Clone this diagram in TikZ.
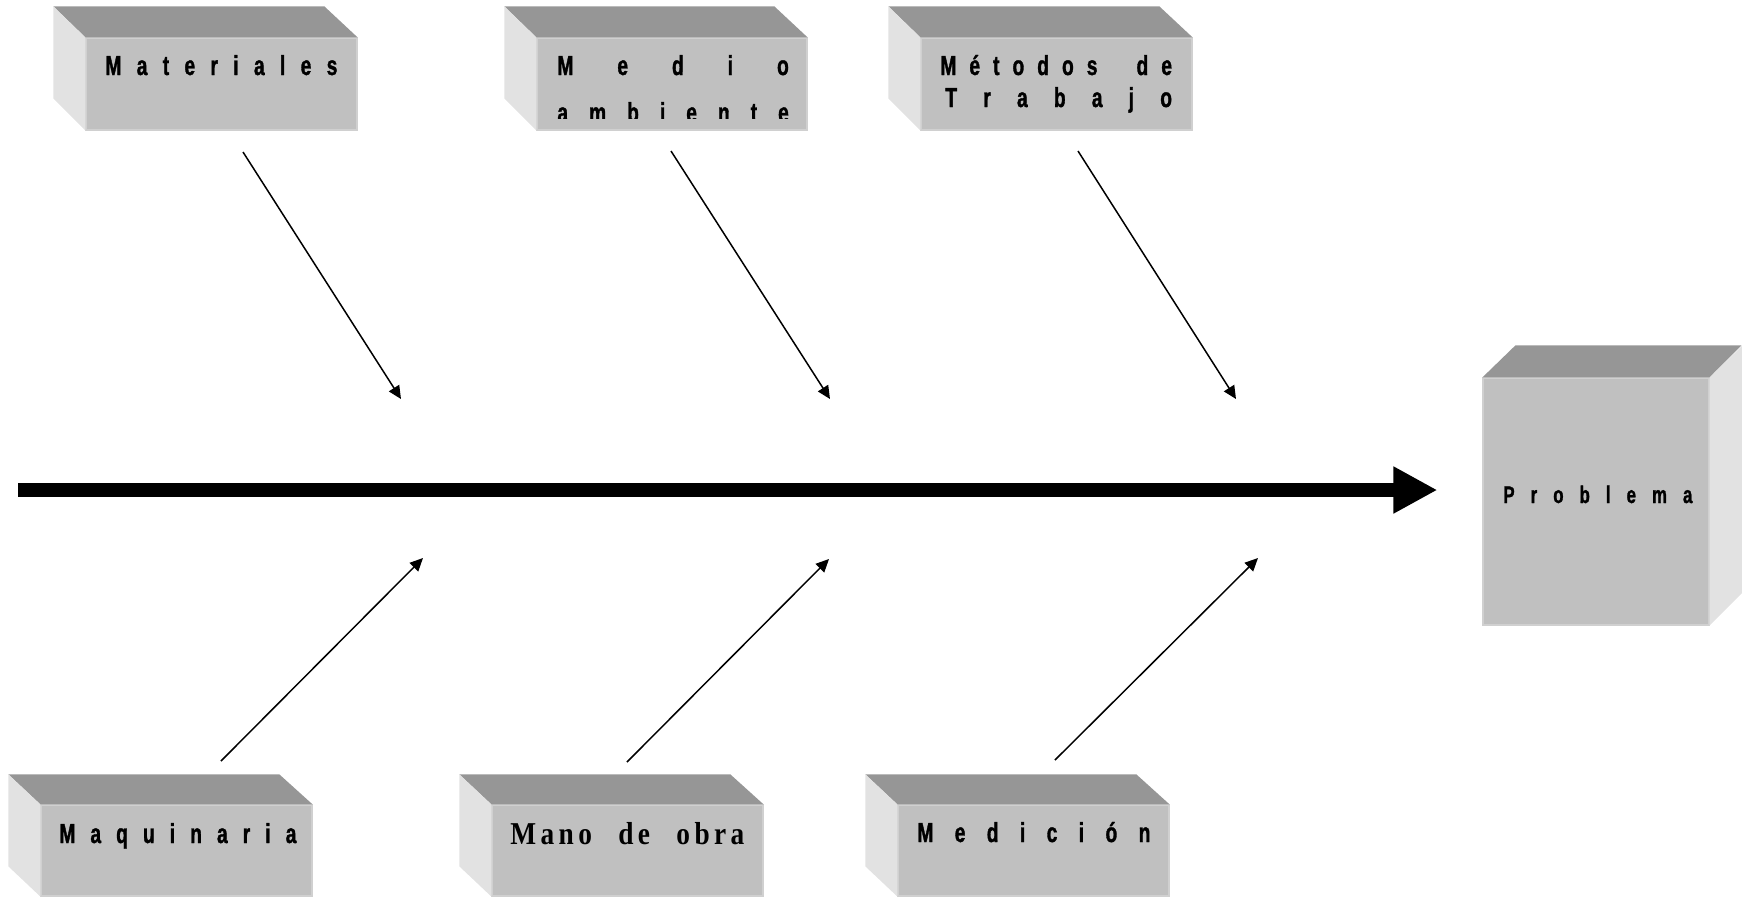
\documentclass[tikz,border=0pt]{standalone}
\usepackage{fontspec}
\setmainfont{Liberation Sans}
\newfontfamily\nsans{Liberation Sans Bold}[FakeStretch=0.7, FakeBold=1.2]
\newfontfamily\nserif{Liberation Serif Bold}[FakeStretch=0.86]
\usetikzlibrary{arrows.meta,fit}
\definecolor{frontc}{HTML}{C0C0C0}
\definecolor{topc}{HTML}{969696}
\definecolor{sidec}{HTML}{E2E2E2}
\definecolor{edgec}{HTML}{D0D0D0}
\begin{document}
\begin{tikzpicture}[x=0.5pt,y=-0.5pt,
  front/.style={fill=frontc, draw=edgec, line width=0.6pt, inner sep=0pt, rectangle},
  topface/.style={fill=topc},
  sideface/.style={fill=sidec},
  lbl/.style={anchor=base west, inner sep=0pt, font=\nsans\fontsize{13.7}{16}\selectfont},
  lblsmall/.style={anchor=base west, inner sep=0pt, font=\nsans\fontsize{12}{14}\selectfont},
  lblserif/.style={anchor=base west, inner sep=0pt, font=\nserif\fontsize{15.9}{18}\selectfont},
  branch/.style={line width=0.75pt, -{Triangle[length=6.5pt,width=6pt]}},
  spine/.style={line width=7pt, -{Triangle[length=22pt,width=22pt]}}
]
\useasboundingbox (0,0) rectangle (1742,896);

% ---------- top boxes (depth to upper left)
% Materiales
\node[front, fit={(86,38) (357,130)}] (mat) {};
\fill[topface] (mat.north west) -- ++(-32,-31) -- ++(271,0) -- (mat.north east) -- cycle;
\fill[sideface] (mat.north west) -- ++(-32,-31) -- ++(0,92) -- (mat.south west) -- cycle;
\node[lbl] (matt) at (105,75) {\makebox[116pt]{M\hfill a\hfill t\hfill e\hfill r\hfill i\hfill a\hfill l\hfill e\hfill s}};

% Medio ambiente
\node[front, fit={(537,38) (807,130)}] (med) {};
\fill[topface] (med.north west) -- ++(-32,-31) -- ++(270,0) -- (med.north east) -- cycle;
\fill[sideface] (med.north west) -- ++(-32,-31) -- ++(0,92) -- (med.south west) -- cycle;
\node[lbl] (medt) at (557,75) {\makebox[115.7pt]{M\hfill e\hfill d\hfill i\hfill o}};
\begin{scope}
  \clip (537,38) rectangle (807,118);
  \node[lbl] (medt2) at (557,122) {\makebox[115.7pt]{a\hfill m\hfill b\hfill i\hfill e\hfill n\hfill t\hfill e}};
\end{scope}

% Metodos de Trabajo
\node[front, fit={(921,38) (1192,130)}] (met) {};
\fill[topface] (met.north west) -- ++(-32,-31) -- ++(271,0) -- (met.north east) -- cycle;
\fill[sideface] (met.north west) -- ++(-32,-31) -- ++(0,92) -- (met.south west) -- cycle;
\node[lbl] (mett) at (940,75) {\makebox[115.8pt]{M\hfill é\hfill t\hfill o\hfill d\hfill o\hfill s\hfill\hfill\hfill d\hfill e}};
\node[lbl] (mett2) at (945,107) {\makebox[113.3pt]{T\hfill r\hfill a\hfill b\hfill a\hfill j\hfill o}};

% ---------- bottom boxes
% Maquinaria
\node[front, fit={(41,805) (312,896)}] (maq) {};
\fill[topface] (maq.north west) -- ++(-32,-30) -- ++(271,0) -- (maq.north east) -- cycle;
\fill[sideface] (maq.north west) -- ++(-32,-30) -- ++(0,92) -- (maq.south west) -- cycle;
\node[lbl] (maqt) at (59,843) {\makebox[118.5pt]{M\hfill a\hfill q\hfill u\hfill i\hfill n\hfill a\hfill r\hfill i\hfill a}};

% Mano de obra
\node[front, fit={(492,805) (763,896)}] (man) {};
\fill[topface] (man.north west) -- ++(-32,-30) -- ++(271,0) -- (man.north east) -- cycle;
\fill[sideface] (man.north west) -- ++(-32,-30) -- ++(0,92) -- (man.south west) -- cycle;
\node[lblserif] (mant) at (510,844) {\makebox[117pt]{M\kern2.2pt a\kern2.2pt n\kern2.2pt o\hfill d\kern2.2pt e\hfill o\kern2.2pt b\kern2.2pt r\kern2.2pt a}};

% Medicion
\node[front, fit={(898,805) (1169,896)}] (mdc) {};
\fill[topface] (mdc.north west) -- ++(-32,-30) -- ++(271,0) -- (mdc.north east) -- cycle;
\fill[sideface] (mdc.north west) -- ++(-32,-30) -- ++(0,92) -- (mdc.south west) -- cycle;
\node[lbl] (mdct) at (917,842) {\makebox[116.5pt]{M\hfill e\hfill d\hfill i\hfill c\hfill i\hfill ó\hfill n}};

% ---------- Problema (depth to upper right)
\node[front, fit={(1483,378) (1709,625)}] (prob) {};
\fill[topface] (prob.north west) -- ++(33,-32) -- ++(226,0) -- (prob.north east) -- cycle;
\fill[sideface] (prob.north east) -- ++(33,-32) -- ++(0,247) -- (prob.south east) -- cycle;
\node[lblsmall] (probt) at (1503,503) {\makebox[94.5pt]{P\hfill r\hfill o\hfill b\hfill l\hfill e\hfill m\hfill a}};

% ---------- spine
\coordinate (tail) at (18,490);
\draw[spine] (tail) -- (prob.west |- tail) [shorten >=22.5pt];

% ---------- branches
\coordinate (a1) at (243,152);  \coordinate (b1) at (401,399);
\coordinate (a2) at (671,151);  \coordinate (b2) at (830,399);
\coordinate (a3) at (1078,151); \coordinate (b3) at (1236,399);
\coordinate (a4) at (221,761);  \coordinate (b4) at (423,558);
\coordinate (a5) at (627,762);  \coordinate (b5) at (829,559);
\coordinate (a6) at (1055,760); \coordinate (b6) at (1258,558);
\draw[branch] (a1) -- (b1);
\draw[branch] (a2) -- (b2);
\draw[branch] (a3) -- (b3);
\draw[branch] (a4) -- (b4);
\draw[branch] (a5) -- (b5);
\draw[branch] (a6) -- (b6);
\end{tikzpicture}
\end{document}
